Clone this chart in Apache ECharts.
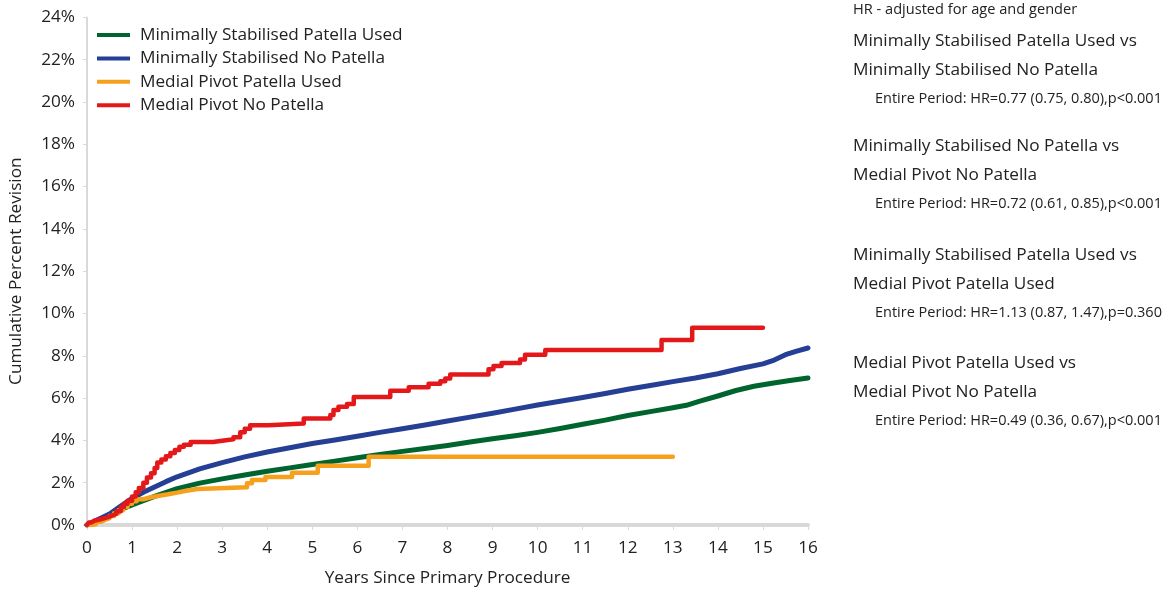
<!DOCTYPE html>
<html>
<head>
<meta charset="utf-8">
<title>Cumulative Percent Revision</title>
<script src="https://cdn.jsdelivr.net/npm/echarts@6.0.0/dist/echarts.min.js"></script>
<style>
  html, body { margin: 0; padding: 0; background: #ffffff; }
  #chart { width: 1168px; height: 595px; }
</style>
</head>
<body>
<div id="chart"></div>
<script>
// Cumulative percent revision by years since primary procedure, [years, percent]
const seriesNames = [
  'Minimally Stabilised Patella Used',
  'Minimally Stabilised No Patella',
  'Medial Pivot Patella Used',
  'Medial Pivot No Patella'
];
const seriesColors = ['#00642f', '#253f94', '#f5a11d', '#e3181b'];

const msPatellaUsed = [
  [0,0],[0.25,0.25],[0.5,0.5],[0.75,0.73],[1,0.95],[1.5,1.35],[2,1.72],[2.5,1.98],
  [3,2.18],[3.5,2.36],[4,2.54],[4.5,2.7],[5,2.86],[5.5,3.02],[6,3.18],[6.5,3.33],
  [7,3.48],[7.5,3.62],[8,3.76],[8.5,3.92],[9,4.08],[9.5,4.22],[10,4.38],[10.5,4.56],
  [11,4.76],[11.5,4.96],[12,5.18],[12.5,5.36],[13,5.54],[13.3,5.66],[13.6,5.86],
  [14,6.1],[14.4,6.36],[14.8,6.56],[15.2,6.7],[15.6,6.83],[16,6.95]
];
const msNoPatella = [
  [0,0],[0.25,0.26],[0.5,0.52],[0.75,0.9],[1,1.26],[1.25,1.55],[1.5,1.8],[1.75,2.05],
  [2,2.28],[2.5,2.65],[3,2.95],[3.5,3.22],[4,3.45],[4.5,3.65],[5,3.85],[5.5,4.02],
  [6,4.2],[6.5,4.38],[7,4.55],[7.5,4.73],[8,4.92],[8.5,5.1],[9,5.28],[9.5,5.48],
  [10,5.67],[10.5,5.85],[11,6.03],[11.5,6.22],[12,6.42],[12.5,6.6],[13,6.78],
  [13.5,6.95],[14,7.15],[14.5,7.4],[15,7.62],[15.25,7.8],[15.5,8.05],[15.75,8.22],
  [16,8.37]
];
const mpPatellaUsed = [
  [0,0],[0.1,0.05],[0.2,0.15],[0.3,0.24],[0.4,0.32],[0.5,0.42],[0.6,0.55],[0.7,0.7],
  [0.8,0.85],[0.9,1.0],[1.0,1.12],[1.1,1.22],[1.25,1.3],[1.4,1.38],[1.6,1.45],
  [1.8,1.53],[2.0,1.62],[2.2,1.7],[2.45,1.78],[3.55,1.97],[3.66,2.13],[3.96,2.27],
  [4.55,2.47],[5.12,2.8],[6.25,3.23],[13.0,3.23]
];
const mpNoPatella = [
  [0,0],[0.04,0.12],[0.1,0.2],[0.16,0.27],[0.3,0.36],[0.45,0.44],[0.55,0.52],
  [0.65,0.65],[0.75,0.85],[0.82,1.0],[0.9,1.15],[1.0,1.35],[1.08,1.55],[1.15,1.75],
  [1.25,2.0],[1.33,2.25],[1.42,2.45],[1.5,2.7],[1.56,2.95],[1.65,3.1],[1.75,3.25],
  [1.85,3.4],[1.95,3.55],[2.05,3.7],[2.15,3.8],[2.3,3.92],[2.8,3.98],[3.0,4.05],
  [3.25,4.15],[3.4,4.38],[3.5,4.55],[3.62,4.72],[4.03,4.8],[4.81,5.03],[5.4,5.2],
  [5.47,5.44],[5.58,5.59],[5.77,5.72],[5.92,6.05],[6.73,6.35],[7.14,6.51],
  [7.58,6.68],[7.84,6.8],[7.95,6.93],[8.06,7.12],[8.91,7.36],[9.02,7.52],
  [9.2,7.66],[9.61,7.82],[9.72,8.05],[10.17,8.27],[12.75,8.75],[13.43,9.33],
  [15.0,9.33]
];

const yTicks = { min: 0, max: 24, interval: 2 };
const xTicks = { min: 0, max: 16, interval: 1 };

// Hazard ratio notes shown to the right of the plot
const hrHeading = 'HR - adjusted for age and gender';
const hrBlocks = [
  ['Minimally Stabilised Patella Used vs', 'Minimally Stabilised No Patella',
   'Entire Period: HR=0.77 (0.75, 0.80),p<0.001'],
  ['Minimally Stabilised No Patella vs', 'Medial Pivot No Patella',
   'Entire Period: HR=0.72 (0.61, 0.85),p<0.001'],
  ['Minimally Stabilised Patella Used vs', 'Medial Pivot Patella Used',
   'Entire Period: HR=1.13 (0.87, 1.47),p=0.360'],
  ['Medial Pivot Patella Used vs', 'Medial Pivot No Patella',
   'Entire Period: HR=0.49 (0.36, 0.67),p<0.001']
];

const FONT = '"Open Sans", "Noto Sans", sans-serif';
const TEXT = '#222222';
const AXIS = '#d9d9d9';
const FS = 17.2;

const dataSets = [msPatellaUsed, msNoPatella, mpPatellaUsed, mpNoPatella];
const stepped = [false, false, 'end', 'end'];
const widths = [5, 5, 4.5, 4.5];

const series = seriesNames.map((name, i) => ({
  name: name,
  type: 'line',
  data: dataSets[i],
  step: stepped[i],
  showSymbol: false,
  symbol: 'none',
  smooth: false,
  lineStyle: { color: seriesColors[i], width: widths[i], cap: 'round', join: 'round' },
  itemStyle: { color: seriesColors[i] },
  z: 2 + i
}));

const graphics = [{
  type: 'text', left: 853, top: 2,
  style: { text: hrHeading, font: '14.6px ' + FONT, fill: TEXT }
}];
const blockTops = [33, 138, 247, 355];
hrBlocks.forEach((b, i) => {
  const t = blockTops[i];
  graphics.push({ type: 'text', left: 853, top: t,
    style: { text: b[0], font: FS + 'px ' + FONT, fill: TEXT } });
  graphics.push({ type: 'text', left: 853, top: t + 29,
    style: { text: b[1], font: FS + 'px ' + FONT, fill: TEXT } });
  graphics.push({ type: 'text', left: 875, top: t + 58,
    style: { text: b[2], font: '14.5px ' + FONT, fill: TEXT } });
});

const chart = echarts.init(document.getElementById('chart'), null, { renderer: 'canvas' });
chart.setOption({
  animation: false,
  backgroundColor: '#ffffff',
  textStyle: { fontFamily: FONT, color: TEXT },
  grid: { left: 86.5, right: 360, top: 17.4, bottom: 70, containLabel: false },
  legend: {
    orient: 'vertical',
    left: 92, top: 20,
    icon: 'rect',
    itemWidth: 33, itemHeight: 4,
    itemGap: 3.4,
    data: seriesNames,
    textStyle: { fontSize: FS, color: TEXT, fontFamily: FONT, lineHeight: 20, padding: [0, 0, 0, 5] }
  },
  xAxis: {
    type: 'value',
    min: xTicks.min, max: xTicks.max, interval: xTicks.interval,
    name: 'Years Since Primary Procedure',
    nameLocation: 'middle', nameGap: 45,
    nameTextStyle: { fontSize: FS, color: TEXT, fontFamily: FONT },
    axisLine: { show: true, lineStyle: { color: AXIS, width: 4 } },
    axisTick: { show: true, length: 5, lineStyle: { color: AXIS, width: 1 } },
    axisLabel: { fontSize: FS, color: TEXT, margin: 15, fontFamily: FONT },
    splitLine: { show: false }
  },
  yAxis: {
    type: 'value',
    min: yTicks.min, max: yTicks.max, interval: yTicks.interval,
    name: 'Cumulative Percent Revision',
    nameLocation: 'middle', nameGap: 62,
    nameTextStyle: { fontSize: FS, color: TEXT, fontFamily: FONT },
    axisLine: { show: true, lineStyle: { color: AXIS, width: 2 } },
    axisTick: { show: true, length: 4, lineStyle: { color: AXIS, width: 1 } },
    axisLabel: { fontSize: FS, color: TEXT, margin: 12, fontFamily: FONT,
      formatter: '{value}%' },
    splitLine: { show: false }
  },
  graphic: graphics,
  series: series
});
</script>
</body>
</html>
